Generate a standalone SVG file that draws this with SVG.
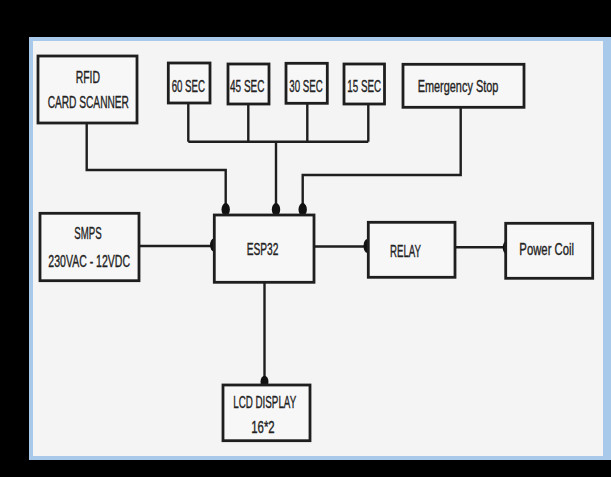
<svg xmlns="http://www.w3.org/2000/svg" width="611" height="477" viewBox="0 0 611 477">
<style>
.box{fill:#f7f7f7;stroke:#1e1e1e;stroke-width:2.8}
.t{font-family:"Liberation Sans",Arial,sans-serif;font-size:16.5px;fill:#222;stroke:#222;stroke-width:0.35;text-anchor:middle}
.w{fill:none;stroke:#1e1e1e;stroke-width:2.4}
.dot{fill:#111}
</style>
<rect x="0" y="0" width="611" height="477" fill="#000"/>
<rect x="29" y="37" width="582" height="423" fill="#a9c9ea"/>
<rect x="33" y="41" width="570" height="415" fill="#f4f4f4"/>
<g id="connectors">
<polyline class="w" points="86.7,123 86.7,170 225.7,170 225.7,215"/>
<line class="w" x1="188.3" y1="103" x2="188.3" y2="141.7"/>
<line class="w" x1="248.3" y1="104" x2="248.3" y2="141.7"/>
<line class="w" x1="307.3" y1="103" x2="307.3" y2="141.7"/>
<line class="w" x1="368.3" y1="104" x2="368.3" y2="141.7"/>
<line class="w" x1="188.3" y1="141.7" x2="368.3" y2="141.7"/>
<line class="w" x1="276" y1="141.7" x2="276" y2="215"/>
<polyline class="w" points="460.7,107 460.7,175 302.7,175 302.7,215"/>
<line class="w" x1="139" y1="246" x2="214" y2="246"/>
<line class="w" x1="314" y1="246.5" x2="368" y2="246.5"/>
<line class="w" x1="455" y1="247.3" x2="506" y2="247.3"/>
<line class="w" x1="264.5" y1="282" x2="264.5" y2="385"/>
<ellipse class="dot" cx="225.7" cy="209.5" rx="4.2" ry="6.5"/>
<ellipse class="dot" cx="276" cy="209.5" rx="4.2" ry="6.5"/>
<ellipse class="dot" cx="302.7" cy="209.5" rx="4.2" ry="6.5"/>
<ellipse class="dot" cx="213.8" cy="245" rx="3.8" ry="6.5"/>
<ellipse class="dot" cx="367.5" cy="246" rx="4" ry="7"/>
<ellipse class="dot" cx="506.5" cy="247.5" rx="3.8" ry="6.5"/>
<ellipse class="dot" cx="264.5" cy="381.7" rx="4" ry="6"/>
</g>
<g id="rfid">
<rect class="box" x="38" y="56" width="99" height="67"/>
<text class="t" x="87.8" y="83.3" textLength="24.3" lengthAdjust="spacingAndGlyphs">RFID</text>
<text class="t" x="88.3" y="108.3" textLength="81.3" lengthAdjust="spacingAndGlyphs">CARD SCANNER</text>
</g>
<g id="sec60">
<rect class="box" x="168.3" y="63" width="41.7" height="40"/>
<text class="t" x="188.3" y="91.7" textLength="33.3" lengthAdjust="spacingAndGlyphs">60 SEC</text>
</g>
<g id="sec45">
<rect class="box" x="228" y="64" width="41" height="40"/>
<text class="t" x="247.2" y="92" textLength="34.3" lengthAdjust="spacingAndGlyphs">45 SEC</text>
</g>
<g id="sec30">
<rect class="box" x="286" y="63.3" width="41.3" height="40"/>
<text class="t" x="306" y="91.7" textLength="33.3" lengthAdjust="spacingAndGlyphs">30 SEC</text>
</g>
<g id="sec15">
<rect class="box" x="344" y="64" width="40.5" height="40"/>
<text class="t" x="364.2" y="92" textLength="33.7" lengthAdjust="spacingAndGlyphs">15 SEC</text>
</g>
<g id="estop">
<rect class="box" x="403" y="64.3" width="121" height="43"/>
<text class="t" x="458" y="92.3" textLength="80.7" lengthAdjust="spacingAndGlyphs">Emergency Stop</text>
</g>
<g id="smps">
<rect class="box" x="40" y="213.3" width="99" height="67.4"/>
<text class="t" x="88" y="239" textLength="27.3" lengthAdjust="spacingAndGlyphs">SMPS</text>
<text class="t" x="89.2" y="266.7" textLength="81.7" lengthAdjust="spacingAndGlyphs">230VAC - 12VDC</text>
</g>
<g id="esp32">
<rect class="box" x="214.3" y="215" width="99.7" height="67.3"/>
<text class="t" x="262.5" y="255" textLength="31.7" lengthAdjust="spacingAndGlyphs">ESP32</text>
</g>
<g id="relay">
<rect class="box" x="368.3" y="222.3" width="86.7" height="55"/>
<text class="t" x="405.5" y="257.3" textLength="31" lengthAdjust="spacingAndGlyphs">RELAY</text>
</g>
<g id="powercoil">
<rect class="box" x="505.7" y="223.3" width="87" height="55"/>
<text class="t" x="546.7" y="255" textLength="54.7" lengthAdjust="spacingAndGlyphs">Power Coil</text>
</g>
<g id="lcd">
<rect class="box" x="223" y="385" width="87" height="55.7"/>
<text class="t" x="264.7" y="408.3" textLength="63" lengthAdjust="spacingAndGlyphs">LCD DISPLAY</text>
<text class="t" x="263" y="432.7" textLength="23.4" lengthAdjust="spacingAndGlyphs">16*2</text>
</g>
</svg>
